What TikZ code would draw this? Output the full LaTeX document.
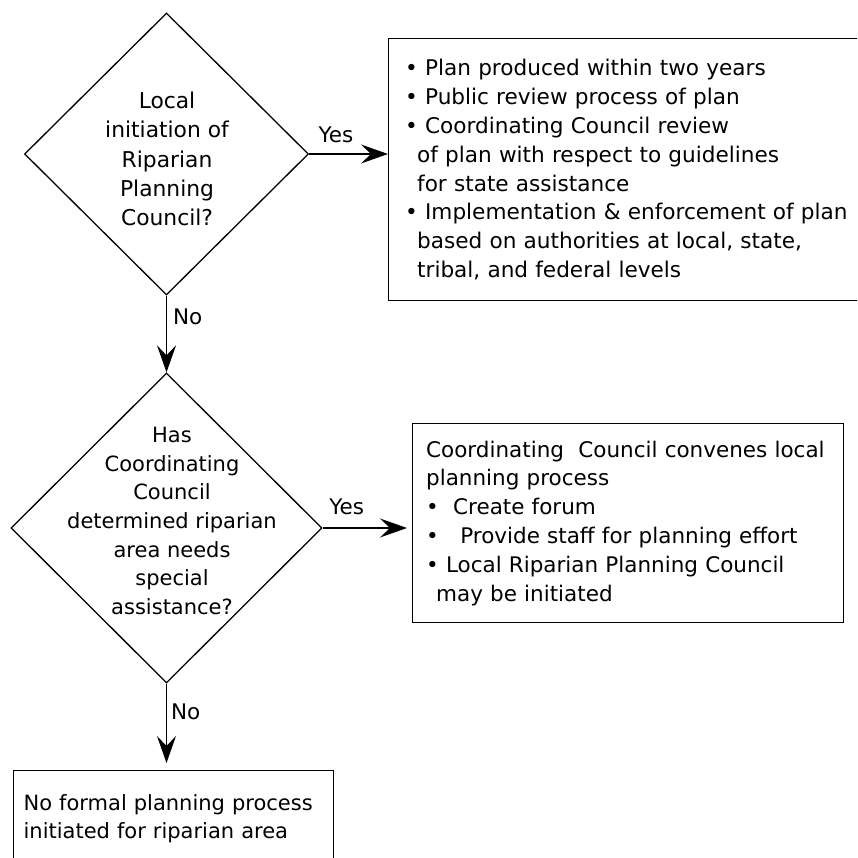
\documentclass[tikz,border=0pt]{standalone}
\usepackage{fontspec}
\setmainfont{DejaVu Sans}
\usetikzlibrary{shapes.geometric,arrows.meta}
\tikzset{
  decision/.style={diamond, draw, line width=1.3pt, inner sep=0pt},
  question/.style={align=center, inner sep=0pt},
  outcome/.style={rectangle, draw, line width=1.3pt, align=left, anchor=north west},
  flow/.style={-{Stealth[length=27pt,width=19pt,inset=10pt]}, line width=1.3pt},
  answer/.style={inner sep=0pt}
}
\begin{document}
\begin{tikzpicture}[x=1pt,y=-1pt,font=\fontsize{21.5}{28.8}\selectfont]
\path[use as bounding box, clip] (0,0) rectangle (857,858);

\node[decision, minimum width=284pt, minimum height=282pt] (q1) at (166.5,154) {};
\node[question, font=\fontsize{21.8}{29.2}\selectfont] (q1text) at (167,159) {Local\\initiation of\\Riparian\\Planning\\Council?};

\node[decision, minimum width=311pt, minimum height=310pt] (q2) at (166.5,528) {};
\node[question, font=\fontsize{21}{28.7}\selectfont] (q2text) at (172,521) {Has\\Coordinating\\Council\\determined riparian\\area needs\\special\\assistance?};

\node[outcome, font=\fontsize{21.6}{28.9}\selectfont, text width=466pt, inner xsep=16.5pt, minimum height=262pt] (plan) at (388,38) {%
\textbullet\ Plan produced within two years\\
\textbullet\ Public review process of plan\\
\textbullet\ Coordinating Council review\\
\hspace*{12pt}of plan with respect to guidelines\\
\hspace*{12pt}for state assistance\\
\textbullet\ Implementation \& enforcement of plan\\
\hspace*{12pt}based on authorities at local, state,\\
\hspace*{12pt}tribal, and federal levels};

\node[outcome, text width=404pt, inner xsep=13.5pt, minimum height=199pt] (convene) at (412,423) {%
Coordinating\ \ Council convenes local\\
planning process\\
\textbullet\ \ Create forum\\
\textbullet\ \ \ Provide staff for planning effort\\
\textbullet\ Local Riparian Planning Council\\
\hspace*{10pt}may be initiated};

\node[outcome, font=\fontsize{21}{28}\selectfont, text width=300pt, inner xsep=10pt, inner ysep=23.5pt] (none) at (13,770) {%
No formal planning process\\
initiated for riparian area};

\draw[flow] (q1.east) -- node[answer, anchor=base, yshift=11pt, pos=0.34] (yes1) {Yes} (q1.east -| plan.west);
\draw[flow] (q1.south) -- node[answer, anchor=west, xshift=6pt, pos=0.28] (no1) {No} (q2.north);
\draw[flow, shorten >=5pt] (q2.east) -- node[answer, anchor=base, yshift=14pt, pos=0.27] (yes2) {Yes} (q2.east -| convene.west);
\draw[flow, shorten >=7pt] (q2.south) -- node[answer, anchor=west, xshift=4pt, pos=0.33] (no2) {No} (q2.south |- none.north);
\end{tikzpicture}
\end{document}
